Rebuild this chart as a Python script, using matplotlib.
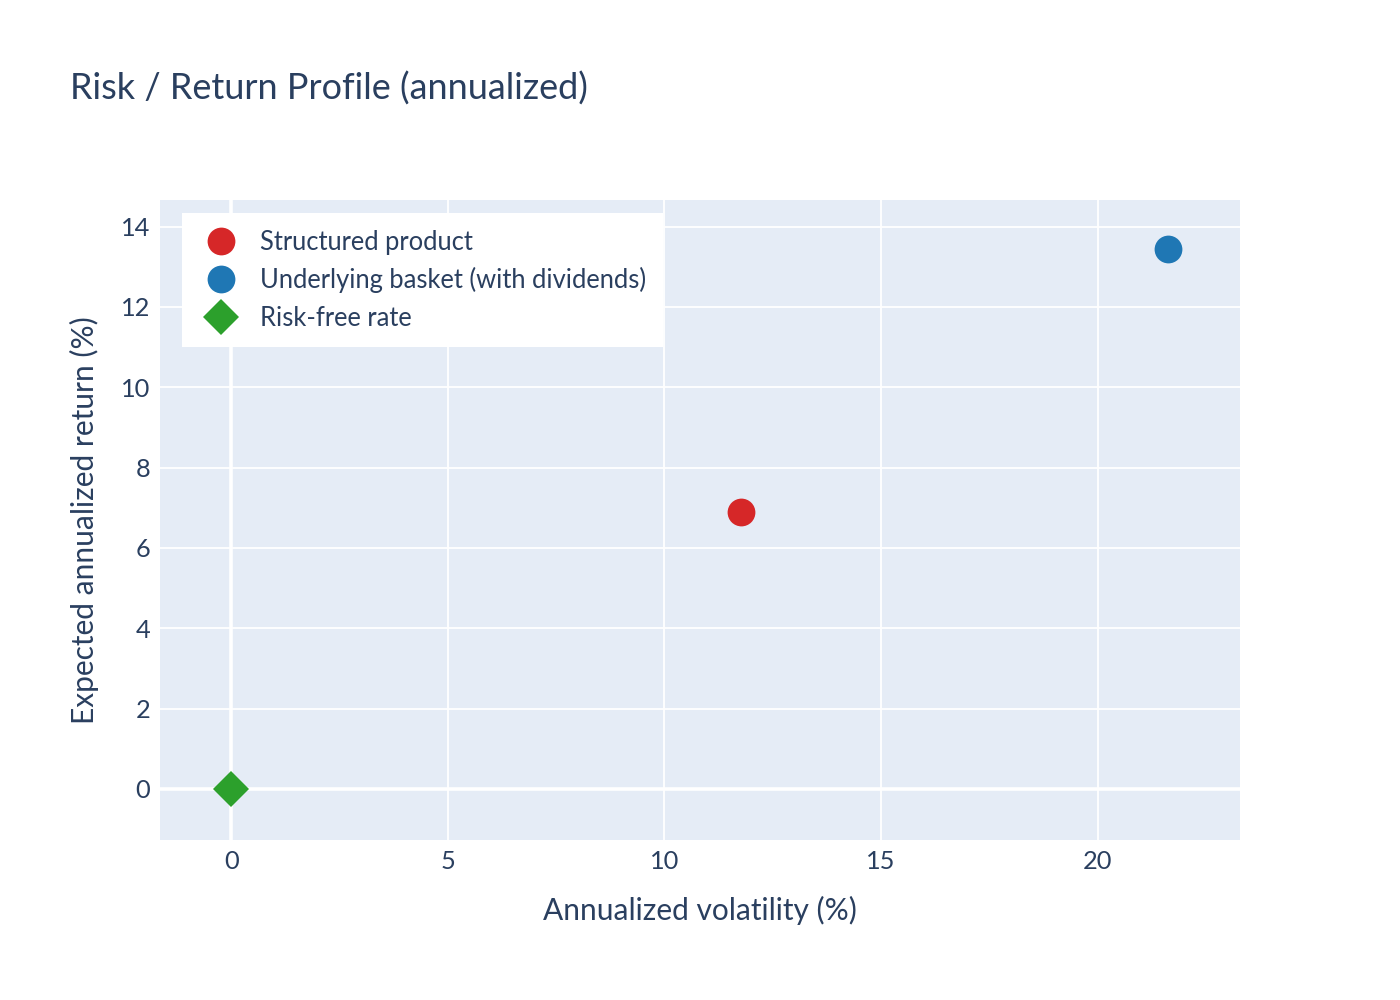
import matplotlib.pyplot as plt

plt.rcParams['font.family'] = ['Lato', 'DejaVu Sans']

# datos
names = ['Structured product', 'Underlying basket (with dividends)', 'Risk-free rate']
vol = [11.76, 21.63, 0.0]
ret = [6.89, 13.44, 0.0]
colors = ['#d62728', '#1f77b4', '#2ca02c']
markers = ['o', 'o', 'D']

x_ticks = [0, 5, 10, 15, 20]
y_ticks = [0, 2, 4, 6, 8, 10, 12, 14]

txt = '#2a3f5f'
bg = '#e5ecf6'

fig = plt.figure(figsize=(14, 10), dpi=100)
ax = fig.add_axes([160 / 1400, 0.16, 1080 / 1400, 0.64])
ax.set_facecolor(bg)
for s in ax.spines.values():
    s.set_visible(False)

ax.set_xlim(-1.65, 23.29)
ax.set_ylim(-1.27, 14.66)
ax.set_xticks(x_ticks)
ax.set_yticks(y_ticks)
ax.grid(True, color='white', linewidth=1.3)
ax.set_axisbelow(True)
ax.axhline(0, color='white', linewidth=2.6, zorder=1)
ax.axvline(0, color='white', linewidth=2.6, zorder=1)
ax.tick_params(length=0, labelsize=18.3, colors=txt, pad=7)

for n, x, y, c, m in zip(names, vol, ret, colors, markers):
    ms = 20 if m == 'o' else 18
    ax.plot([x], [y], linestyle='none', marker=m, markersize=ms, color=c,
            markeredgewidth=0, label=n, zorder=3)

ax.set_xlabel('Annualized volatility (%)', fontsize=21.5, color=txt, labelpad=17)
ax.set_ylabel('Expected annualized return (%)', fontsize=21.5, color=txt, labelpad=16)

leg = ax.legend(loc='upper left', bbox_to_anchor=(182 / 1400, 1 - 213 / 1000),
                bbox_transform=fig.transFigure, fontsize=18.4, frameon=True,
                fancybox=False, framealpha=1, edgecolor='white', labelcolor=txt,
                borderpad=0.66, labelspacing=0.48, handletextpad=0.66,
                handlelength=1.73, borderaxespad=0)
leg.get_frame().set_linewidth(0)

fig.text(70 / 1400, 1 - 89 / 1000, 'Risk / Return Profile (annualized)',
         fontsize=25.9, color=txt, va='center', ha='left')

fig.savefig('out.png', dpi=100, facecolor='white')
